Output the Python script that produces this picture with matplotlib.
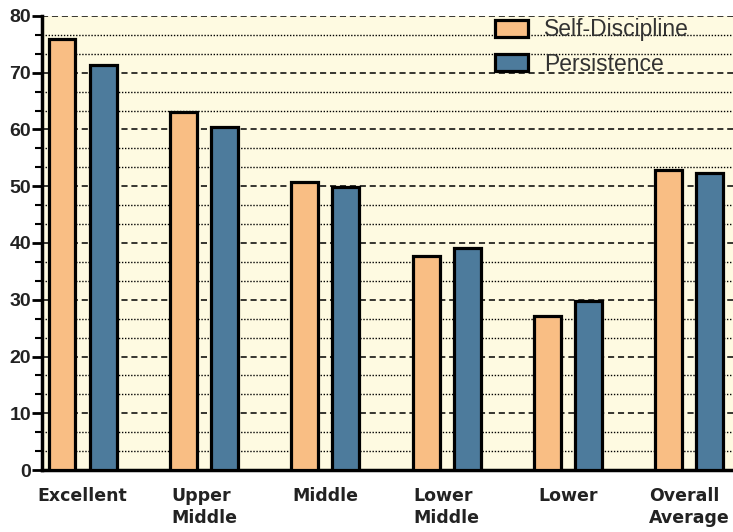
import numpy as np
import matplotlib.pyplot as plt
from matplotlib.ticker import MultipleLocator

plt.rcParams.update({
    "font.family": "Liberation Sans",
})

categories = ["Excellent", "Upper\nMiddle", "Middle", "Lower\nMiddle", "Lower", "Overall\nAverage"]
self_discipline = [76, 63, 50.7, 37.7, 27.1, 52.9]
persistence = [71.3, 60.5, 49.8, 39.1, 29.7, 52.3]

ORANGE = "#F9BE84"
BLUE = "#4D7B9C"
BG = "#FEFAE1"

fig = plt.figure(figsize=(7.33, 5.32), dpi=100)
ax = fig.add_axes([0.0573, 0.1165, 0.9427, 0.8535])

x = np.arange(len(categories))
w = 0.222
off = 0.169
ax.bar(x - off, self_discipline, w, color=ORANGE, edgecolor="black", linewidth=2.3,
       label="Self-Discipline", zorder=3)
ax.bar(x + off, persistence, w, color=BLUE, edgecolor="black", linewidth=2.3,
       label="Persistence", zorder=3)

ax.set_facecolor(BG)
ax.set_xlim(-0.334, 5.36)
ax.set_ylim(0, 80)

# y ticks: major every 10, minor every 10/3
ax.yaxis.set_major_locator(MultipleLocator(10))
ax.yaxis.set_minor_locator(MultipleLocator(10 / 3))
ax.grid(axis="y", which="major", color="black", linestyle=(0, (4, 2.5)), linewidth=1.1, zorder=1)
ax.grid(axis="y", which="minor", color="black", linestyle=(0, (1, 1.2)), linewidth=1.0, zorder=1)
ax.tick_params(axis="y", which="major", length=7, width=2, labelsize=14, pad=1)
ax.tick_params(axis="y", which="minor", length=5, width=1.5)
for lbl in ax.get_yticklabels():
    lbl.set_fontweight("bold")
    lbl.set_color("#222222")

ax.set_xticks(x)
ax.set_xticklabels(categories, fontsize=12.5, fontweight="bold", family="DejaVu Sans",
                   va="top", ha="center", multialignment="left", linespacing=1.3,
                   color="#222222")
ax.tick_params(axis="x", length=0, pad=12)

for s in ["top", "right"]:
    ax.spines[s].set_visible(False)
ax.spines["left"].set_linewidth(2.5)
ax.spines["bottom"].set_linewidth(2.5)

leg = ax.legend(loc="upper left", bbox_to_anchor=(0.6556, 0.995), frameon=False,
                fontsize=16.5, handlelength=1.45, handleheight=0.8, handletextpad=0.7,
                labelspacing=0.5, borderpad=0.0, borderaxespad=0.0)
for t in leg.get_texts():
    t.set_color("#333333")
for p in leg.get_patches():
    p.set_linewidth(2.3)

fig.savefig("out.png", dpi=100)
